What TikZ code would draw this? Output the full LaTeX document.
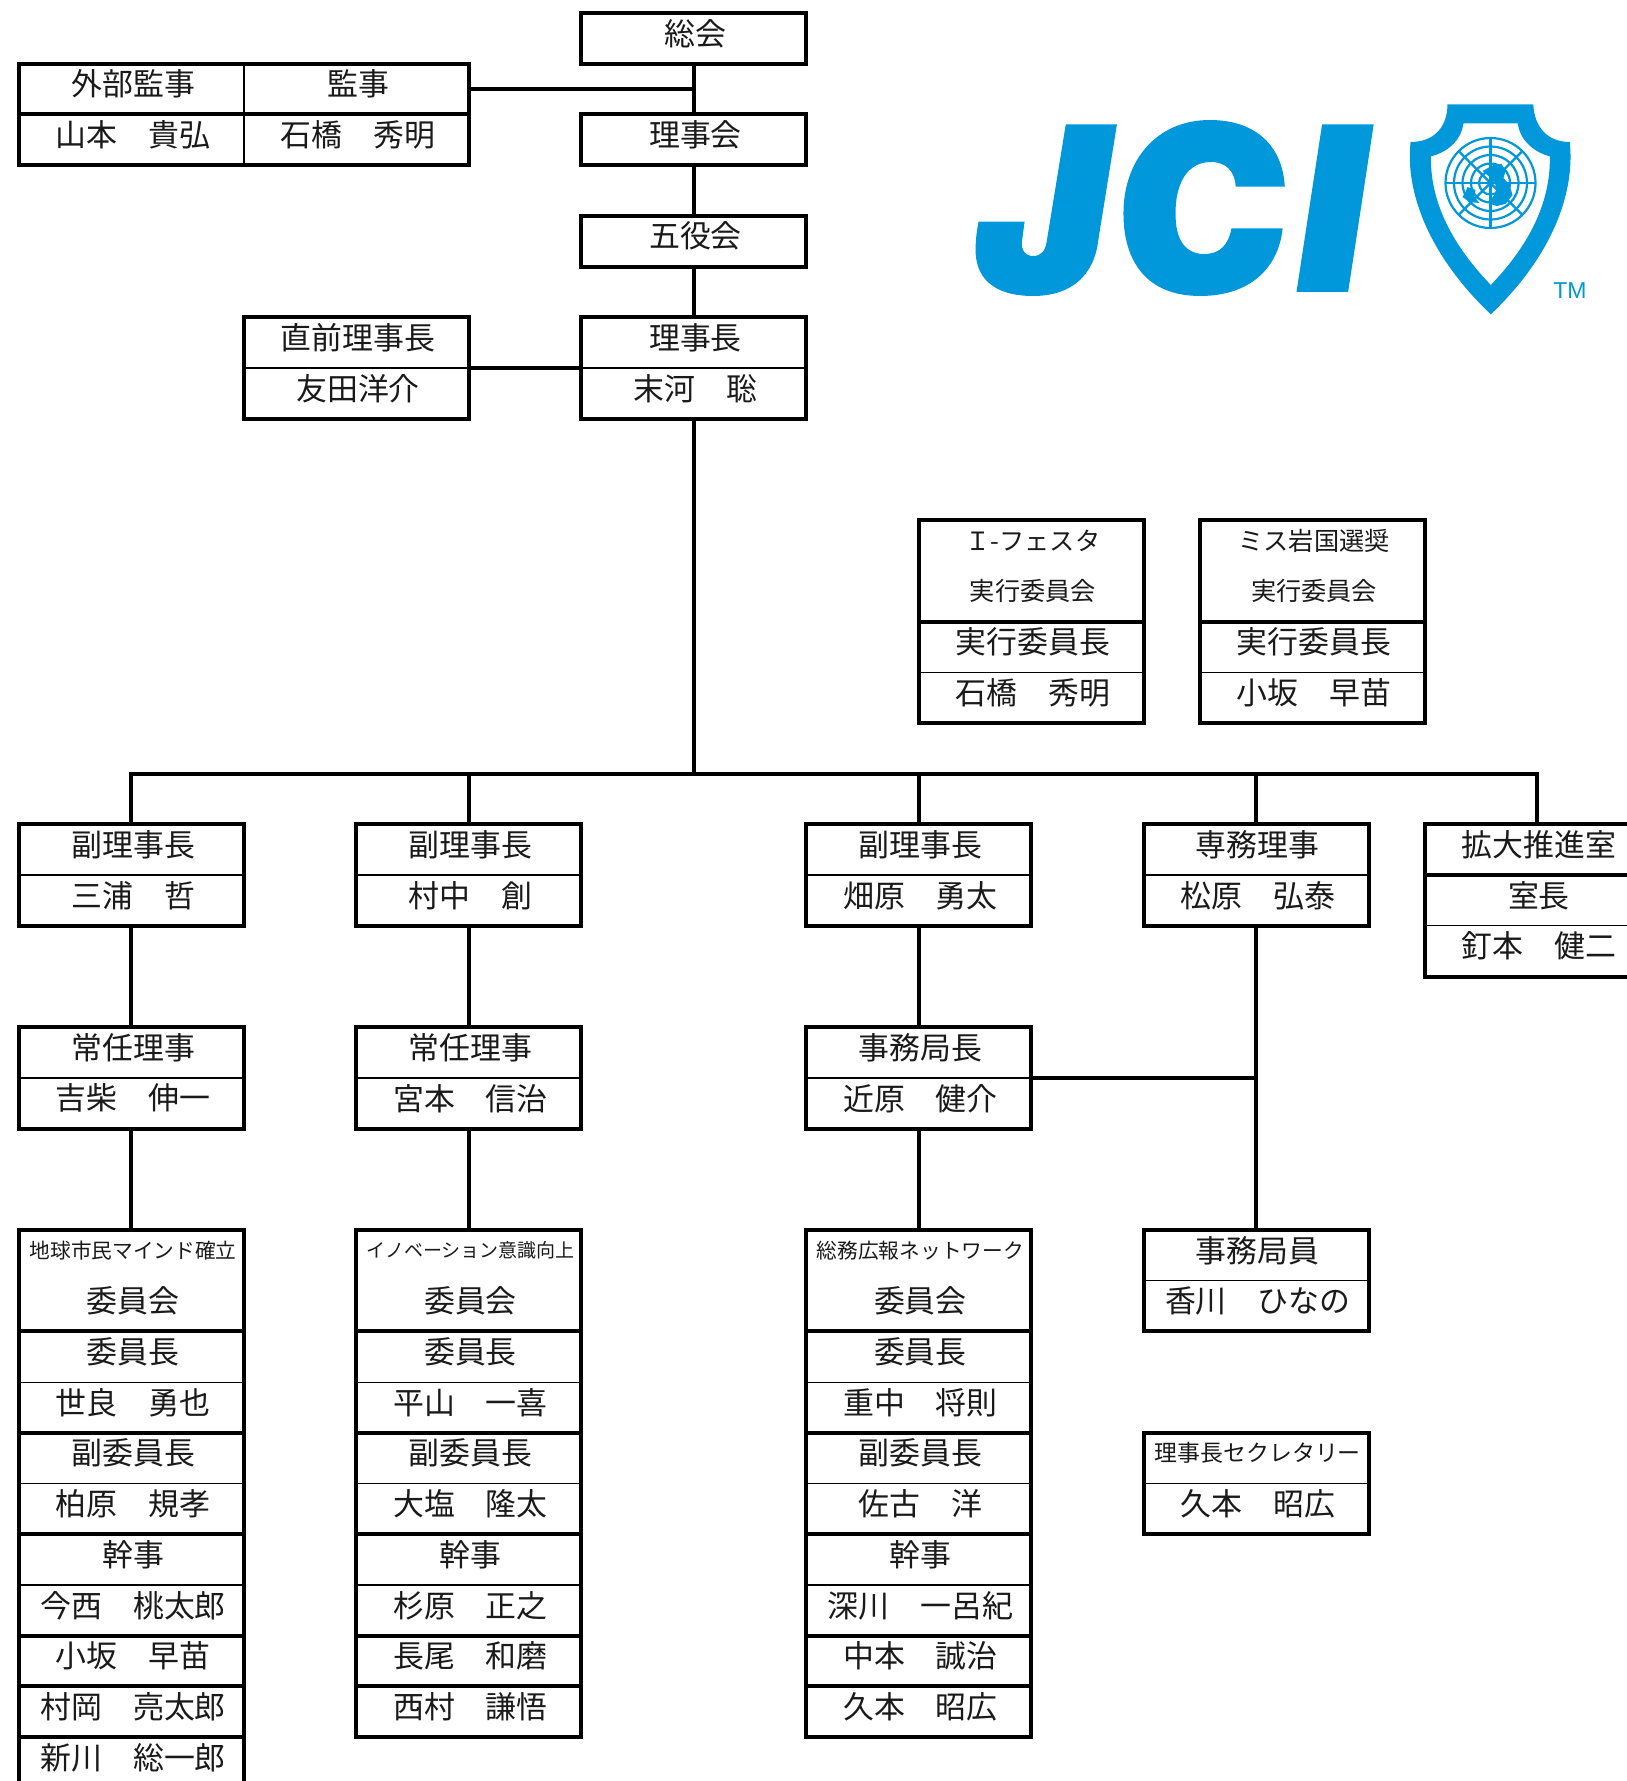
\documentclass[tikz,border=0pt]{standalone}
\usepackage{fontspec}
\setmainfont{Noto Sans CJK JP}
\newfontfamily\tmfont{Liberation Sans}
\definecolor{jciblue}{HTML}{0098DA}
\definecolor{inkc}{HTML}{1A1A1A}
\newcounter{txc}
\tikzset{
  boxo/.style={draw=black,line width=4pt,fill=white,rectangle,inner sep=0pt,outer sep=0pt},
  conn/.style={draw=black,line width=4pt},
  thinsep/.style={draw=black,line width=1.3pt},
  thicksep/.style={draw=black,line width=4pt},
  midsep/.style={draw=black,line width=2.6pt},
  lbl/.style={inner sep=0pt,outer sep=0pt,text=inkc,anchor=center},
  logofill/.style={fill=jciblue,draw=none},
  globeline/.style={draw=jciblue,line width=2.2pt}
}
\newcommand\BX[5]{\node[boxo,minimum width={(#3-(#2))*112.46pt},minimum height={(#5-(#4))*50.71pt}] (#1) at ({19+112.46*(#2+#3)/2},{13+50.71*(#4+#5)/2}) {};}
\newcommand\HS[4]{\draw[#4] ({19+112.46*(#1)},{13+50.71*(#3)}) -- ({19+112.46*(#2)},{13+50.71*(#3)});}
\newcommand\TX[4]{\stepcounter{txc}\node[lbl] (t\arabic{txc}) at ({20.7+112.46*(#1)},{33.4+50.71*(#2)}) {\fontsize{#3}{#3}\selectfont #4};}
\newcommand\COR[3]{\coordinate (#1) at ({19+112.46*(#2)},{13+50.71*(#3)});}
\begin{document}
\begin{tikzpicture}[x=1pt,y=-1pt]
\clip (0,0) rectangle (1627,1781);
\fill[white] (0,0) rectangle (1627,1781);
% ---------- boxes
\BX{soukai}{5}{7}{0}{1}
\BX{rijikai}{5}{7}{2}{3}
\BX{goyaku}{5}{7}{4}{5}
\BX{rijicho}{5}{7}{6}{8}
\BX{kansa}{0}{4}{1}{3}
\BX{chokuzen}{2}{4}{6}{8}
\BX{ifes}{8}{10}{10}{14}
\BX{miss}{10.5}{12.5}{10}{14}
\BX{fuku1}{0}{2}{16}{18}
\BX{fuku2}{3}{5}{16}{18}
\BX{fuku3}{7}{9}{16}{18}
\BX{senmu}{10}{12}{16}{18}
\BX{kakudai}{12.5}{14.5}{16}{19}
\BX{jonin1}{0}{2}{20}{22}
\BX{jonin2}{3}{5}{20}{22}
\BX{jimukyoku}{7}{9}{20}{22}
\BX{iin1}{0}{2}{24}{35}
\BX{iin2}{3}{5}{24}{34}
\BX{iin3}{7}{9}{24}{34}
\BX{jimuin}{10}{12}{24}{26}
\BX{secretary}{10}{12}{28}{30}
% ---------- connectors
\COR{audj}{4}{1.5}
\COR{busc}{6}{15}
\draw[conn] (soukai.south) -- (rijikai.north);
\draw[conn] (rijikai.south) -- (goyaku.north);
\draw[conn] (goyaku.south) -- (rijicho.north);
\draw[conn] (audj) -- (audj -| soukai.south);
\draw[conn] (chokuzen.east) -- (rijicho.west);
\draw[conn] (rijicho.south) -- (busc);
\draw[conn,line join=miter] (fuku1.north) -- (fuku1.north |- busc) -- (kakudai.north |- busc) -- (kakudai.north);
\draw[conn] (fuku2.north) -- (fuku2.north |- busc);
\draw[conn] (fuku3.north) -- (fuku3.north |- busc);
\draw[conn] (senmu.north) -- (senmu.north |- busc);
\draw[conn] (fuku1.south) -- (jonin1.north);
\draw[conn] (fuku2.south) -- (jonin2.north);
\draw[conn] (fuku3.south) -- (jimukyoku.north);
\draw[conn] (jonin1.south) -- (iin1.north);
\draw[conn] (jonin2.south) -- (iin2.north);
\draw[conn] (jimukyoku.south) -- (iin3.north);
\draw[conn] (senmu.south) -- (jimuin.north);
\draw[conn] (jimukyoku.east) -- (jimukyoku.east -| senmu.south);
% ---------- separators
\HS{5}{7}{7}{thinsep}
\HS{2}{4}{7}{thinsep}
\HS{0}{4}{2}{thicksep}
\draw[midsep] (kansa.north) -- (kansa.south);
\foreach \c in {8,10.5}{
  \pgfmathsetmacro\d{\c+2}
  \HS{\c}{\d}{12}{thicksep}
  \HS{\c}{\d}{13}{thinsep}
}
\foreach \c in {0,3,7,10}{
  \pgfmathsetmacro\d{\c+2}
  \HS{\c}{\d}{17}{thinsep}
}
\foreach \c in {0,3,7}{
  \pgfmathsetmacro\d{\c+2}
  \HS{\c}{\d}{21}{thinsep}
  \foreach \r in {26,28,30,32,33}{\HS{\c}{\d}{\r}{thicksep}}
  \foreach \r in {27,29,31}{\HS{\c}{\d}{\r}{thinsep}}
}
\HS{0}{2}{34}{thicksep}
\HS{12.5}{14.5}{17}{thicksep}
\HS{12.5}{14.5}{18}{thinsep}
\HS{10}{12}{25}{thinsep}
\HS{10}{12}{29}{thinsep}
% ---------- texts
\TX{6}{0}{30.9}{総会}
\TX{6}{2}{30.9}{理事会}
\TX{6}{4}{30.9}{五役会}
\TX{6}{6}{30.9}{理事長}
\TX{6}{7}{30.9}{末河　聡}
\TX{1}{1}{30.9}{外部監事}
\TX{3}{1}{30.9}{監事}
\TX{1}{2}{30.9}{山本　貴弘}
\TX{3}{2}{30.9}{石橋　秀明}
\TX{3}{6}{30.9}{直前理事長}
\TX{3}{7}{30.9}{友田洋介}
\TX{9}{10}{25.2}{Ｉ-フェスタ}
\TX{9}{11}{25.2}{実行委員会}
\TX{9}{12}{30.9}{実行委員長}
\TX{9}{13}{30.9}{石橋　秀明}
\TX{11.5}{10}{25.2}{ミス岩国選奨}
\TX{11.5}{11}{25.2}{実行委員会}
\TX{11.5}{12}{30.9}{実行委員長}
\TX{11.5}{13}{30.9}{小坂　早苗}
\TX{1}{16}{30.9}{副理事長}
\TX{1}{17}{30.9}{三浦　哲}
\TX{4}{16}{30.9}{副理事長}
\TX{4}{17}{30.9}{村中　創}
\TX{8}{16}{30.9}{副理事長}
\TX{8}{17}{30.9}{畑原　勇太}
\TX{11}{16}{30.9}{専務理事}
\TX{11}{17}{30.9}{松原　弘泰}
\TX{13.5}{16}{30.9}{拡大推進室}
\TX{13.5}{17}{30.9}{室長}
\TX{13.5}{18}{30.9}{釘本　健二}
\TX{1}{20}{30.9}{常任理事}
\TX{1}{21}{30.9}{吉柴　伸一}
\TX{4}{20}{30.9}{常任理事}
\TX{4}{21}{30.9}{宮本　信治}
\TX{8}{20}{30.9}{事務局長}
\TX{8}{21}{30.9}{近原　健介}
\TX{1}{24}{20.7}{地球市民マインド確立}
\TX{1}{25}{30.9}{委員会}
\TX{1}{26}{30.9}{委員長}
\TX{1}{27}{30.9}{世良　勇也}
\TX{1}{28}{30.9}{副委員長}
\TX{1}{29}{30.9}{柏原　規孝}
\TX{1}{30}{30.9}{幹事}
\TX{1}{31}{30.9}{今西　桃太郎}
\TX{1}{32}{30.9}{小坂　早苗}
\TX{1}{33}{30.9}{村岡　亮太郎}
\TX{1}{34}{30.9}{新川　総一郎}
\TX{4}{24}{19}{イノベーション意識向上}
\TX{4}{25}{30.9}{委員会}
\TX{4}{26}{30.9}{委員長}
\TX{4}{27}{30.9}{平山　一喜}
\TX{4}{28}{30.9}{副委員長}
\TX{4}{29}{30.9}{大塩　隆太}
\TX{4}{30}{30.9}{幹事}
\TX{4}{31}{30.9}{杉原　正之}
\TX{4}{32}{30.9}{長尾　和磨}
\TX{4}{33}{30.9}{西村　謙悟}
\TX{8}{24}{20.7}{総務広報ネットワーク}
\TX{8}{25}{30.9}{委員会}
\TX{8}{26}{30.9}{委員長}
\TX{8}{27}{30.9}{重中　将則}
\TX{8}{28}{30.9}{副委員長}
\TX{8}{29}{30.9}{佐古　洋}
\TX{8}{30}{30.9}{幹事}
\TX{8}{31}{30.9}{深川　一呂紀}
\TX{8}{32}{30.9}{中本　誠治}
\TX{8}{33}{30.9}{久本　昭広}
\TX{11}{24}{30.9}{事務局員}
\TX{11}{25}{30.9}{香川　ひなの}
\TX{11}{28}{22.9}{理事長セクレタリー}
\TX{11}{29}{30.9}{久本　昭広}
% ---------- logo
\begin{scope}[shift={(940,80)},x=0.4337pt,y=-0.3333pt]
\fill[logofill] (290,133) -- (408,133) -- (365,480) .. controls (355,590) and (300,648) .. (215,648) .. controls (120,648) and (82,590) .. (82,510) .. controls (82,480) and (85,450) .. (89,425) -- (195,425) -- (189,485) .. controls (187,510) and (195,528) .. (215,528) .. controls (235,528) and (243,510) .. (246,485) -- cycle;
\fill[logofill] (795,320) -- (682,320) .. controls (680,275) and (660,246) .. (625,246) .. controls (570,246) and (543,310) .. (543,400) .. controls (543,480) and (565,522) .. (610,522) .. controls (645,522) and (665,495) .. (672,445) -- (790,445) .. controls (780,570) and (710,648) .. (600,648) .. controls (480,648) and (423,550) .. (423,400) .. controls (423,240) and (500,120) .. (622,120) .. controls (730,120) and (790,200) .. (795,320) -- cycle;
\fill[logofill] (881,133) -- (1000,133) -- (941,636) -- (822,636) -- cycle;
\fill[logofill,even odd rule] (1170,73) -- (1368,73) .. controls (1370,140) and (1400,186) .. (1452,186) .. controls (1465,340) and (1410,530) .. (1270,703) .. controls (1130,530) and (1072,340) .. (1085,186) .. controls (1140,186) and (1170,140) .. (1170,73) -- cycle
 (1207,130) -- (1332,130) .. controls (1336,175) and (1365,215) .. (1406,229) .. controls (1408,350) and (1370,480) .. (1270,615) .. controls (1170,480) and (1130,350) .. (1132,229) .. controls (1175,215) and (1203,175) .. (1207,130) -- cycle;
\end{scope}
\begin{scope}[shift={(1490.5,183)}]
\foreach \r in {45,36.5,28,19.5,11.5}{\draw[globeline] (0,0) circle[radius=\r];}
\draw[globeline] (-45,0) -- (45,0);
\draw[globeline] (0,-45) -- (0,45);
\draw[globeline] (-32,-32) -- (32,32);
\draw[globeline] (-32,32) -- (32,-32);
\fill[logofill] (3,-18) -- (11,-19) -- (15,-12) -- (13,-5) -- (19,2) -- (22,12) -- (15,21) -- (6,23) -- (-2,20) -- (3,13) -- (6,6) -- (4,-1) -- (-2,-7) -- (-8,-12) -- cycle;
\fill[logofill] (-23,4) -- (-15,7) -- (-16,14) -- (-11,20) -- (-21,19) -- (-28,14) -- (-25,9) -- cycle;
\end{scope}
\node[inner sep=0pt,text=jciblue,anchor=center] (tm) at (1570,291) {\tmfont\fontsize{23}{23}\selectfont TM};
\end{tikzpicture}
\end{document}
